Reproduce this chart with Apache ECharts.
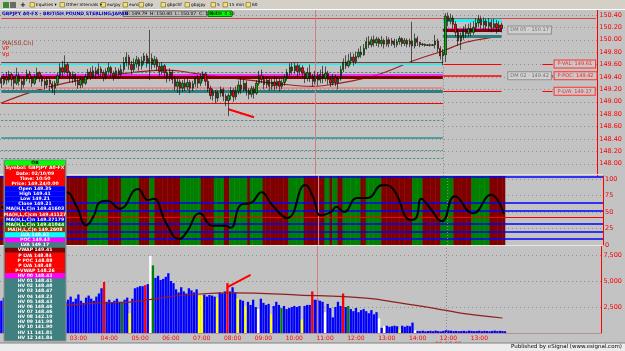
<!DOCTYPE html>
<html><head><meta charset="utf-8">
<script src="https://cdn.jsdelivr.net/npm/echarts@6/dist/echarts.min.js"></script>
<style>html,body{margin:0;padding:0;background:#c3c3c3;}#c{width:625px;height:351px;}</style>
</head><body><div id="c"></div><script>
// ---------------- DATA ----------------
const categories = [];
(function(){
  const pad = n => String(n).padStart(2,'0');
  for (let k=0;k<174;k++){ const m=30+5*k; categories.push('02.10.09 '+pad(Math.floor(m/60))+':'+pad(m%60)); }
  for (let k=0;k<23;k++){ const m=720+5*k; categories.push('05.10.09 '+pad(Math.floor(m/60))+':'+pad(m%60)); }
  for (let k=categories.length;k<234;k++) categories.push('pad'+k);
})();

// [open, high, low, close]
const ohlc = [
[149.38,149.42,149.22,149.30],[149.30,149.45,149.27,149.40],[149.40,149.48,149.28,149.35],[149.35,149.50,149.31,149.44],
[149.44,149.47,149.25,149.36],[149.36,149.41,149.20,149.30],[149.30,149.55,149.27,149.42],[149.42,149.46,149.26,149.33],
[149.33,149.38,149.19,149.28],[149.28,149.41,149.23,149.37],[149.37,149.52,149.33,149.45],[149.45,149.50,149.30,149.38],
[149.38,149.41,149.24,149.30],[149.30,149.44,149.27,149.39],[149.39,149.55,149.35,149.47],[149.47,149.49,149.32,149.40],
[149.40,149.43,149.25,149.33],[149.33,149.37,149.20,149.27],[149.27,149.40,149.22,149.35],[149.35,149.38,149.18,149.29],
[149.29,149.33,149.14,149.22],[149.22,149.34,149.11,149.30],[149.30,149.47,149.26,149.42],[149.42,149.62,149.38,149.55],
[149.55,149.66,149.40,149.48],[149.48,149.75,149.45,149.60],[149.60,149.64,149.40,149.47],[149.47,149.50,149.31,149.38],
[149.38,149.49,149.30,149.44],[149.44,149.46,149.26,149.33],[149.33,149.38,149.21,149.27],[149.27,149.41,149.22,149.36],
[149.36,149.40,149.23,149.30],[149.30,149.45,149.27,149.40],[149.40,149.53,149.36,149.48],[149.48,149.55,149.35,149.41],
[149.41,149.58,149.38,149.50],[149.50,149.56,149.37,149.45],[149.45,149.62,149.41,149.53],[149.53,149.57,149.39,149.47],
[149.47,149.51,149.33,149.40],[149.40,149.54,149.36,149.49],[149.49,149.63,149.44,149.55],[149.55,149.58,149.40,149.46],
[149.46,149.50,149.34,149.41],[149.41,149.56,149.38,149.50],[149.50,149.54,149.37,149.44],[149.44,149.60,149.40,149.52],
[149.52,149.72,149.47,149.63],[149.63,149.80,149.57,149.72],[149.72,149.76,149.52,149.60],[149.60,149.66,149.44,149.52],
[149.52,149.70,149.48,149.61],[149.61,149.74,149.55,149.68],[149.68,149.72,149.50,149.58],[149.58,149.73,149.52,149.66],
[149.66,149.79,149.60,149.74],[149.74,149.78,149.55,149.62],[149.62,150.16,149.35,149.70],[149.70,149.78,149.52,149.60],
[149.60,149.74,149.55,149.68],[149.68,149.72,149.50,149.57],[149.57,149.63,149.42,149.49],[149.49,149.64,149.44,149.58],
[149.58,149.61,149.38,149.47],[149.47,149.52,149.31,149.40],[149.40,149.54,149.33,149.48],[149.48,149.51,149.29,149.36],
[149.36,149.42,149.18,149.25],[149.25,149.38,149.15,149.32],[149.32,149.36,149.11,149.22],[149.22,149.35,149.16,149.30],
[149.30,149.37,149.17,149.24],[149.24,149.37,149.19,149.31],[149.31,149.35,149.14,149.22],[149.22,149.34,149.17,149.29],
[149.29,149.41,149.24,149.37],[149.37,149.43,149.22,149.30],[149.30,149.46,149.25,149.38],[149.38,149.49,149.33,149.45],
[149.45,149.48,149.26,149.33],[149.33,149.37,149.16,149.22],[149.22,149.26,149.04,149.10],[149.10,149.21,149.02,149.16],
[149.16,149.19,148.98,149.06],[149.06,149.18,149.00,149.14],[149.14,149.25,149.08,149.20],[149.20,149.23,149.01,149.09],
[149.09,149.13,148.93,149.02],[149.02,149.14,148.77,149.10],[149.10,149.24,149.03,149.18],[149.18,149.22,149.00,149.08],
[149.08,149.25,149.03,149.17],[149.17,149.34,149.12,149.27],[149.27,149.40,149.13,149.20],[149.20,149.36,149.16,149.30],
[149.30,149.34,149.10,149.18],[149.18,149.22,149.04,149.12],[149.12,149.26,149.07,149.21],[149.21,149.25,149.05,149.14],
[149.14,149.35,149.11,149.30],[149.30,149.50,149.26,149.42],[149.42,149.52,149.30,149.36],[149.36,149.42,149.20,149.28],
[149.28,149.40,149.22,149.35],[149.35,149.38,149.18,149.25],[149.25,149.37,149.19,149.32],[149.32,149.42,149.18,149.26],
[149.26,149.39,149.21,149.33],[149.33,149.38,149.17,149.25],[149.25,149.36,149.20,149.31],[149.31,149.44,149.26,149.39],
[149.39,149.53,149.34,149.47],[149.47,149.62,149.42,149.56],[149.56,149.63,149.44,149.50],[149.50,149.63,149.45,149.58],
[149.58,149.62,149.40,149.49],[149.49,149.60,149.43,149.55],[149.55,149.59,149.38,149.46],[149.46,149.50,149.30,149.38],
[149.38,149.55,149.33,149.47],[149.47,149.60,149.32,149.40],[149.40,149.45,149.25,149.33],[149.33,149.50,149.28,149.42],
[149.42,149.48,149.26,149.35],[149.35,149.52,149.30,149.44],[149.44,149.58,149.30,149.38],[149.38,149.57,149.33,149.46],
[149.46,149.50,149.28,149.36],[149.36,149.42,149.24,149.30],[149.30,149.45,149.26,149.39],[149.39,149.44,149.25,149.31],
[149.31,149.41,149.20,149.37],[149.37,149.58,149.34,149.52],[149.52,149.70,149.48,149.64],[149.64,149.75,149.53,149.58],
[149.58,149.77,149.55,149.66],[149.66,149.80,149.60,149.72],[149.72,149.78,149.58,149.65],[149.65,149.81,149.61,149.73],
[149.73,149.86,149.70,149.80],[149.80,149.90,149.71,149.76],[149.76,149.93,149.74,149.86],[149.86,150.04,149.84,149.97],
[149.97,150.06,149.87,149.92],[149.92,150.05,149.88,150.00],[150.00,150.07,149.89,149.95],[149.95,150.05,149.90,150.01],
[150.01,150.04,149.88,149.94],[149.94,150.06,149.89,149.99],[149.99,150.02,149.86,149.93],[149.93,150.06,149.89,150.00],
[150.00,150.04,149.88,149.94],[149.94,150.03,149.90,149.98],[149.98,150.02,149.87,149.92],[149.92,150.01,149.88,149.97],
[149.97,150.06,149.92,150.02],[150.02,150.04,149.89,149.94],[149.94,150.03,149.90,149.99],[149.99,150.02,149.88,149.93],
[149.93,150.02,149.88,149.98],[149.98,150.29,149.64,149.90],[149.90,150.10,149.86,150.02],[150.02,150.06,149.90,149.96],
[149.96,149.97,149.88,149.92],[149.92,149.95,149.90,149.93],[149.93,149.94,149.89,149.91],[149.91,149.93,149.90,149.92],
[149.92,149.94,149.89,149.91],[149.91,149.93,149.90,149.92],[149.92,150.08,149.86,149.98],[149.98,150.02,149.80,149.86],
[149.86,149.90,149.68,149.74],[149.74,149.85,149.59,149.80],
[149.76,150.43,149.64,150.38],[150.38,150.44,150.22,150.30],[150.30,150.42,150.25,150.35],[150.35,150.39,150.18,150.25],
[150.25,150.30,150.05,150.12],[150.12,150.18,149.90,149.98],[149.98,150.12,149.84,150.06],[150.06,150.22,150.00,150.15],
[150.15,150.25,150.03,150.10],[150.10,150.26,150.05,150.18],[150.18,150.28,150.06,150.12],[150.12,150.30,150.08,150.20],
[150.20,150.35,150.15,150.27],[150.27,150.40,150.20,150.33],[150.33,150.38,150.18,150.24],[150.24,150.36,150.16,150.30],
[150.30,150.34,150.15,150.22],[150.22,150.35,150.14,150.28],[150.28,150.33,150.12,150.20],[150.20,150.34,150.14,150.26],
[150.26,150.32,150.10,150.19],[150.19,150.30,150.13,150.24],[150.24,150.28,150.12,150.18]
];

// MA(50) of price: [barIndex, value] read at points
const priceMA = [[0,148.98],[12,149.16],[25,149.30],[38,149.40],[58,149.50],[65,149.51],[77,149.45],[97,149.35],[109,149.29],[122,149.25],[131,149.29],[147,149.43],[162,149.67],[173,149.82],[182,149.96],[194,150.05],[196,150.06]];

// volume per bar
const volume = [
3100,3400,2900,3600,3200,3000,3800,3300,2800,3100,3500,3000,3300,2900,3600,3200,3400,3000,2800,3300,3700,3100,2900,3400,3600,3000,
3200,3500,3000,3300,3700,3100,2900,3400,3600,3300,3100,3500,3800,4300,
4900,
3000,3200,2900,3100,3300,3000,3000,3200,3400,1900,3300,4300,
4400,4500,4500,4600,4700,
7400,6500,
5300,5500,5100,5200,5400,5750,5000,4800,
4200,3900,4400,4000,3800,4300,4100,3900,4200,
3600,3600,
3700,3500,3650,3600,3500,
3350,
3900,3800,4000,
4800,
4000,4400,3900,3300,3200,
3100,2600,3000,2700,3200,2500,2300,
3300,2900,2700,2800,1800,2600,3000,2700,2400,2600,2300,2400,2500,2600,2500,2600,1300,2600,2700,
2700,4000,3200,3200,3100,3000,2000,2800,2400,
1500,2500,3000,2600,3800,
2500,2600,2300,2100,2400,2000,2200,2300,2100,1900,2200,1800,2000,1400,
500,650,700,600,650,700,650,350,700,600,700,650,1000,
250,200,180,220,160,190,210,170,230,180,150,200,260,240,220,180,200,170,190,210,160,230,200,180,190,220,170,210,190,160,200,230,180,210,190,170
];
// bar type of non-blue volume bars (r, g, y, w)
const volumeType = {40:'r',47:'g',50:'y',56:'r',58:'w',59:'g',77:'y',78:'y',84:'y',88:'r',92:'y',95:'y',100:'w',105:'y',109:'g',117:'y',121:'r',126:'w',133:'r',135:'g',147:'w',149:'w',155:'y',161:'w'};
const volumeMA = [[0,2600],[26,2700],[38,2900],[51,3000],[64,3450],[77,3750],[90,3850],[116,3650],[142,3350],[155,2900],[168,2400],[181,1830],[195,1440]];

// oscillator [barIndex, value]
const oscillator = [[0,58],[5,52],[10,57],[15,66],[20,75],[25,80],[29,60],[33,30],[36,45],[38,64],[41,67],[46,55],[53,85],[57,68],[59,70],[64,33],[69,9],[72,20],[77,48],[82,29],[87,29],[89,26],[93,61],[97,64],[101,80],[105,61],[111,41],[118,91],[121,73],[124,45],[128,50],[130,58],[133,50],[138,71],[142,71],[148,91],[152,85],[159,38],[161,41],[163,70],[166,58],[171,36],[176,74],[183,48],[190,76],[195,47]];
// background regime runs: [state, number of bars]
const regimeRuns = [['r',34],['g',8],['r',5],['g',7],['r',4],['g',2],['r',10],['g',8],['r',5],['g',4],['r',2],['g',7],['r',1],['g',5],['r',10],['g',6],['r',8],['g',2],['r',1],['g',2],['r',2],['g',7],['r',2],['g',6],['r',12],['g',4],['r',7],['g',5],['r',7],['g',7],['r',6]];
const oscBlueLevels = [103, 63.6, 51.5, 31.8, 19.7, 9.1];
const oscRedLevel = 42.4;

// horizontal levels (price, kind)
const prevLevels = [[149.62,'cyan'],[149.64,'red'],[149.48,'tealDot'],[149.43,'magenta'],[149.40,'maroon'],[149.22,'salmon'],[149.17,'teal'],[148.98,'red'],[148.71,'tealDot'],[148.42,'teal2'],[148.22,'tealDot'],[148.09,'tealDot']];
const curLevels = [[150.32,'cyan'],[150.18,'magenta'],[150.15,'maroon'],[150.06,'teal'],[149.61,'red'],[149.42,'red2'],[149.17,'red']];
const sideTags = [[149.61,'P-VAL: 149.61'],[149.42,'P-POC: 149.42'],[149.17,'P-LVA: 149.17']];
const dmTags = [[150.16,'DM 05 - 150.17'],[149.42,'DM 02 - 149.42']];
const priceTags = [[150.32,'150.32','#00ffff','#0000c0'],[150.18,'150.18','#ff0000','#ffffff'],[150.09,'150.088','#800000','#ffc0c0'],[149.61,'149.61','#ff0000','#ffffff'],[149.42,'149.42','#ff0000','#ffffff'],[149.17,'149.17','#ff0000','#ffffff']];

const dataWindowRows = [
['OB','#00ff00','#000000'],['Symbol: GBPJPY A0-FX','#ff0000','#ffffff'],['Date: 02/10/09','#ff0000','#ffffff'],['Time: 10:50','#ff0000','#ffffff'],
['Price: 149.24/0.00','#ff0000','#ffffff'],['Open 149.35','#0000ff','#ffffff'],['High 149.41','#0000ff','#ffffff'],['Low 149.21','#0000ff','#ffffff'],
['Close 149.21','#0000ff','#ffffff'],['MA(H,L,C)n 149.41603','#0000ff','#ffffff'],['MA(H,L,C)cm 149.41127','#ff0000','#ffffff'],['MA(H,L,C)n 149.37179','#0000ff','#ffffff'],
['MA(H,L,C)n 149.41044','#008000','#ffffff'],['MA(H,L,C)n 149.2608','#a03000','#ffffff'],['LVA 149.63','#00ffff','#ffffff'],['POC 149.43','#ff00ff','#ffffff'],
['LVA 149.17','#408080','#ffffff'],['VWAP 149.41','#800000','#ffffff'],['P LVA 148.84','#ff0000','#ffffff'],['P POC 148.88','#ff0000','#ffffff'],
['P LVA 148.48','#ff0000','#ffffff'],['P-VWAP 148.26','#ff0000','#ffffff'],['HV 00 148.43','#ff00ff','#ffffff'],
['HV 01 148.41','#408080','#ffffff'],['HV 02 148.48','#408080','#ffffff'],['HV 03 148.47','#408080','#ffffff'],['HV 04 148.23','#408080','#ffffff'],
['HV 05 148.43','#408080','#ffffff'],['HV 06 148.46','#408080','#ffffff'],['HV 07 148.46','#408080','#ffffff'],['HV 08 142.10','#408080','#ffffff'],
['HV 09 141.98','#408080','#ffffff'],['HV 10 141.90','#408080','#ffffff'],['HV 11 141.81','#408080','#ffffff'],['HV 12 141.84','#408080','#ffffff']
];
const toolbarItems = [['Equities ▾',36],['Other Intervals ▾',66],['eurjpy',107],['euro',129],['gbp',145],['gbpchf',167],['gbpjpy',191],['5',217],['15 min',229],['60',252]];

// ---------------- CHART ----------------
const chart = echarts.init(document.getElementById('c'), null, {renderer:'canvas', width:625, height:351});
const RED='#ff0000', FONT='DejaVu Sans';
const lineKinds = {
  red:{color:'#ff0000',width:1,type:'solid'}, red2:{color:'#ff0000',width:1.5,type:'solid'}, cyan:{color:'#00ffff',width:3,type:'solid'},
  tealDot:{color:'#3a8a8a',width:1,type:[2,2]}, magenta:{color:'#ff00ff',width:1.5,type:'solid'}, maroon:{color:'#800000',width:3,type:'solid'},
  salmon:{color:'#e09090',width:2,type:'solid'}, teal:{color:'#2f7f7f',width:3,type:'solid'}, teal2:{color:'#2f8f8f',width:1.5,type:'solid'}
};
const SESSION_END = 173, LAST = ohlc.length-1, NC = categories.length-1;

function xAx(gi, labels){
  return {type:'category', gridIndex:gi, data:categories, boundaryGap:true,
    axisTick:{show:false}, splitLine:{show:false},
    axisLine:{show:labels, lineStyle:{color:'#b89090'}},
    axisLabel: labels ? {color:RED, fontSize:6, fontFamily:FONT, margin:2, lineHeight:6,
      interval:(i,v)=>/:00$/.test(v),
      formatter:(v)=> v==='05.10.09 12:00' ? '12:00\n05.10.09' : v.slice(9)} : {show:false}};
}
function yAx(gi, o){
  return Object.assign({type:'value', gridIndex:gi, position:'right',
    axisLine:{show:true, lineStyle:{color:RED}}, axisTick:{show:false},
    splitLine:{show:true, showMinLine:false, showMaxLine:false, lineStyle:{color:'#8e8e8e', type:[1,3]}}}, o);
}
const vline = (gi)=>({type:'line', xAxisIndex:gi, yAxisIndex:gi, data:[], silent:true, z:3,
  markLine:{silent:true, symbol:['none','none'], label:{show:false}, animation:false,
    data:[{xAxis:123, lineStyle:{color:'#d08080', width:1, type:'solid'}},
          {xAxis:SESSION_END, lineStyle:{color:'#8a8a8a', width:1, type:[1,2]}}]}});

const levelData = [];
prevLevels.forEach(([p,k])=>levelData.push([{coord:[0,p], lineStyle:lineKinds[k]},{coord:[SESSION_END,p]}]));
curLevels.forEach(([p,k])=>levelData.push([{coord:[SESSION_END,p], lineStyle:lineKinds[k]},{coord:[LAST,p]}]));
levelData.push([{coord:[0,150.34], lineStyle:{color:'#e04040',width:1,type:'solid'}},{coord:[NC,150.34]}]);
sideTags.forEach(([p,t],j)=>levelData.push([{coord:[212,p], lineStyle:{color:RED,width:j===1?2:1,type:'solid'},
  label:{show:true, position:'end', distance:2, formatter:t, color:'#ff2020', fontSize:5, fontFamily:FONT,
  backgroundColor:'#c8c8c8', borderColor:'#ff3030', borderWidth:1, padding:[1,3]}},{coord:[216,p]}]));
levelData.push([{coord:[89,148.88], lineStyle:{color:RED,width:2,type:'solid'}},{coord:[99,148.75]}]);
priceTags.forEach(([p,t,bg,fg])=>levelData.push({yAxis:p, lineStyle:{opacity:0},
  label:{show:true, position:'end', distance:1, formatter:t, color:fg, backgroundColor:bg, fontSize:6.5, fontFamily:FONT, padding:[0,1]}}));

const regimeColors = [];
regimeRuns.forEach(([s,n])=>{ for(let k=0;k<n;k++) regimeColors.push(s==='g'?'#008000':'#800000'); });
const volColors = {b:'#0000ff', r:'#ff0000', g:'#008000', y:'#ffff00', w:'#ffffff'};

const option = {
  backgroundColor:'#c3c3c3', animation:false,
  grid:[
    {left:0, top:10.04, width:603, height:166.16},
    {left:0, top:176, width:603, height:69},
    {left:0, top:246, width:603, height:87}
  ],
  xAxis:[xAx(0,false), xAx(1,false), xAx(2,true)],
  yAxis:[
    yAx(0,{min:147.8, max:150.48, interval:0.2, axisLabel:{color:RED, fontSize:6.5, fontFamily:FONT, margin:2, showMinLabel:false, showMaxLabel:false, formatter:v=>v.toFixed(2)}}),
    yAx(1,{min:0, max:104.5, interval:25, axisLabel:{color:RED, fontSize:6.5, fontFamily:FONT, margin:2, showMaxLabel:false}}),
    yAx(2,{min:0, max:8365, interval:2500, axisLabel:{color:RED, fontSize:6.5, fontFamily:FONT, margin:2, showMinLabel:false, showMaxLabel:false, formatter:v=>v.toLocaleString('en-US')}})
  ],
  series:[
    {type:'line', xAxisIndex:0, yAxisIndex:0, data:[], silent:true, z:2,
     markLine:{silent:true, symbol:['none','none'], label:{show:false}, animation:false, data:levelData},
     markPoint:{silent:true, symbol:'rect', symbolSize:1, itemStyle:{color:'rgba(0,0,0,0)'},
       data: dmTags.map(([p,t])=>({coord:[207,p], label:{show:true, position:'inside', formatter:t, color:'#707070', fontSize:5, fontFamily:FONT, backgroundColor:'#d0d0d0', borderColor:'#909090', borderWidth:1, padding:[1,2]}}))}},
    vline(0),
    {type:'line', xAxisIndex:0, yAxisIndex:0, data:priceMA, smooth:0.4, symbol:'none', lineStyle:{color:'#a02020', width:1.2}, z:4},
    {type:'candlestick', xAxisIndex:0, yAxisIndex:0, data:ohlc.map(d=>[d[0],d[3],d[2],d[1]]), barWidth:1.8, z:5,
     itemStyle:{color:'#00b000', color0:'#ff0000', borderColor:'#000000', borderColor0:'#000000', borderWidth:0.6}},
    // oscillator
    {type:'bar', xAxisIndex:1, yAxisIndex:1, barWidth:3, z:1, silent:true,
     data: regimeColors.map(c=>({value:104.5, itemStyle:{color:c}}))},
    {type:'line', xAxisIndex:1, yAxisIndex:1, data:[], silent:true, z:3,
     markLine:{silent:true, symbol:['none','none'], label:{show:false}, animation:false,
       data: oscBlueLevels.map(v=>({yAxis:v, lineStyle:{color:'#0000ff', width:1.5, type:'solid'}}))
         .concat([{yAxis:oscRedLevel, lineStyle:{color:'#ff0000', width:1, type:'solid'}},
                  {yAxis:48.5, lineStyle:{opacity:0}, label:{show:true, position:'end', distance:1, formatter:'51.51', color:'#ffffff', backgroundColor:'#000000', fontSize:6.5, fontFamily:FONT, padding:[0,1]}}])}},
    vline(1),
    {type:'line', xAxisIndex:1, yAxisIndex:1, data:oscillator, smooth:0.5, symbol:'none', lineStyle:{color:'#000000', width:2}, z:6},
    // volume
    {type:'bar', xAxisIndex:2, yAxisIndex:2, barWidth:2.3, z:3,
     data: volume.map((v,i)=>({value:v, itemStyle:{color:volColors[volumeType[i]||'b']}}))},
    vline(2),
    {type:'line', xAxisIndex:2, yAxisIndex:2, data:volumeMA, smooth:0.4, symbol:'none', lineStyle:{color:'#902020', width:1.2}, z:5,
     markLine:{silent:true, symbol:['none','none'], label:{show:false}, animation:false,
       data:[[{coord:[88,4420], lineStyle:{color:RED,width:2,type:'solid'}},{coord:[97,5580]}],
             {yAxis:1440, lineStyle:{opacity:0}, label:{show:true, position:'end', distance:1, formatter:'1,312.12', color:'#ffd0d0', backgroundColor:'#800000', fontSize:6, fontFamily:FONT, padding:[0,1]}},
             {yAxis:450, lineStyle:{opacity:0}, label:{show:true, position:'end', distance:1, formatter:'3', color:'#0000ff', backgroundColor:'#ffffff', borderColor:'#0000ff', borderWidth:1, fontSize:6, fontFamily:FONT, padding:[0,1]}}]}}
  ],
  graphic:{elements: buildGraphics()}
};

function T(x,y,text,fill,font,align){ return {type:'text', x:x, y:y, z:100, silent:true, style:{text:text, fill:fill, font:font, textAlign:align||'left', align:align||'left', textVerticalAlign:'middle', verticalAlign:'middle'}}; }
function R(x,y,w,h,fill,stroke){ return {type:'rect', z:99, silent:true, shape:{x:x,y:y,width:w,height:h}, style:{fill:fill, stroke:stroke||null, lineWidth:stroke?1:0}}; }
function L(x1,y1,x2,y2,c){ return {type:'line', z:99, silent:true, shape:{x1:x1,y1:y1,x2:x2,y2:y2}, style:{stroke:c, lineWidth:1}}; }
function buildGraphics(){
  const g = [];
  // toolbar
  g.push(R(0,0,625,9.5,'#d4d0c8')); g.push(L(0,9.5,625,9.5,'#ffffff'));
  g.push(R(3,2,6,6,'#3a8a3a')); g.push(R(10,2,6,6,'#6a6a6a')); g.push(T(20,5,'+','#000','bold 7px '+FONT));
  toolbarItems.forEach(([t,x])=>{ g.push(R(x-6,2.5,4.5,4.5,'#f0e080','#a09040')); g.push(T(x,5,t,'#000','4.3px '+FONT)); });
  // title row
  g.push(T(2,13.5,'GBPJPY A0-FX - BRITISH POUND STERLING/JAPAN','#0000c0','bold 4.6px '+FONT));
  g.push(R(123,11,84,5.5,'#b8b8b8','#707070'));
  g.push(T(125,13.8,'O: 149.79  H: 150.40  L: 150.07  C: 150.18','#000','4.5px '+FONT));
  g.push(R(208,11,24,5.5,'#00ff00','#008000'));
  g.push(T(210,13.8,'Net + 0.10','#000','4.5px '+FONT));
  // indicator legends
  g.push(T(2,43,'MA(50,Cn)','#a03020','6px '+FONT));
  g.push(T(2,49,'VP','#ff0000','5.5px '+FONT));
  g.push(T(2,54.5,'Vp','#ff0000','5.5px '+FONT));
  // panel separators
  g.push(L(0,174.5,603,174.5,'#e0e0e0'));
  g.push(L(0,245.5,603,245.5,'#e8e8e8'));
  // data window
  const rowH = (340-160.5)/dataWindowRows.length;
  g.push(R(4,160,62,181,'#408080','#909090'));
  dataWindowRows.forEach(([t,bg,fg],k)=>{
    g.push(R(5,160.5+k*rowH,60,rowH,bg));
    g.push(T(35,160.5+k*rowH+rowH/2,t,fg,'bold 4.6px '+FONT,'center'));
  });
  // status bar
  g.push(R(0,343,625,8,'#ececec')); g.push(L(0,343,625,343,'#808080'));
  g.push(T(622,347,'Published by eSignal (www.esignal.com)','#000','5.5px '+FONT,'right'));
  return g;
}
chart.setOption(option);
</script></body></html>
